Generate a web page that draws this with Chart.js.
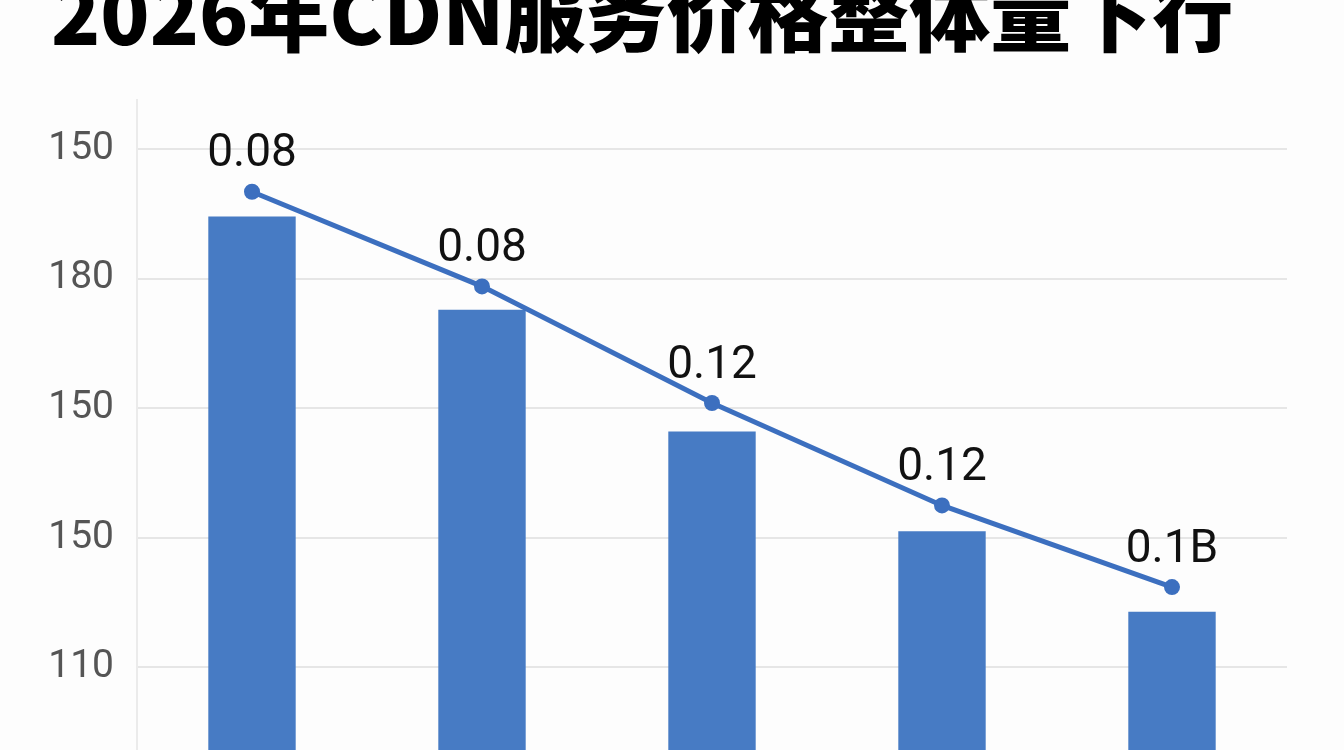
<!DOCTYPE html>
<html>
<head>
<meta charset="utf-8">
<script src="https://cdn.jsdelivr.net/npm/chart.js@4/dist/chart.umd.min.js"></script>
<style>
    html, body { margin: 0; padding: 0; background: #fdfdfd; overflow: hidden; }
    #wrap { position: relative; width: 1344px; height: 750px; }
    #title {
        position: absolute; left: 51px; top: -31px; margin: 0;
        font-family: "Noto Sans CJK SC", sans-serif; font-weight: 900;
        font-size: 81px; line-height: 1; color: #000; white-space: nowrap;
    }
</style>
</head>
<body>
<div id="wrap">
    <canvas id="myChart" width="1344" height="750"></canvas>
    <h1 id="title">2026年CDN服务价格整体量下行</h1>
</div>
<script>
// Data.
const categories = ['1', '2', '3', '4', '5'];
const barValues = [144.8, 137.6, 128.2, 120.5, 114.3];
const lineValues = [146.7, 139.4, 130.4, 122.5, 116.2];
const pointLabels = ['0.08', '0.08', '0.12', '0.12', '0.1B'];
const tickValues = [150, 140, 130, 120, 110];
const tickLabels = ['150', '180', '150', '150', '110'];

// Draws the text over each point of the line.
const pointLabelPlugin = {
    id: 'pointLabels',
    afterDatasetsDraw(chart) {
        const ctx = chart.ctx;
        const meta = chart.getDatasetMeta(1);
        ctx.save();
        ctx.font = '46px Roboto';
        ctx.fillStyle = '#111';
        ctx.textAlign = 'center';
        ctx.textBaseline = 'middle';
        meta.data.forEach((pt, i) => {
            ctx.fillText(pointLabels[i], pt.x, pt.y - 37);
        });
        ctx.restore();
    }
};

const ctx = document.getElementById('myChart').getContext('2d');
const chart = new Chart(ctx, {
    data: {
        labels: categories,
        datasets: [{
            type: 'bar',
            data: barValues,
            backgroundColor: '#477bc4',
            barPercentage: 0.38,
            categoryPercentage: 1,
            order: 1
        }, {
            type: 'line',
            data: lineValues,
            borderColor: '#3c6fbf',
            backgroundColor: '#3c6fbf',
            borderWidth: 5,
            pointRadius: 8,
            pointBorderWidth: 0,
            tension: 0,
            order: 0
        }]
    },
    options: {
        responsive: false,
        animation: false,
        layout: {
            autoPadding: false,
            padding: { top: 100, right: 57, bottom: 0, left: 0 }
        },
        plugins: {
            legend: { display: false },
            tooltip: { enabled: false }
        },
        scales: {
            x: { display: false, offset: true },
            y: {
                min: 103.63,
                max: 153.78,
                afterBuildTicks: (scale) => {
                    scale.ticks = tickValues.map(v => ({ value: v }));
                },
                afterFit: (scale) => {
                    scale.width = 137;
                    scale.paddingTop = 0;
                    scale.paddingBottom = 0;
                },
                grid: { color: '#e6e6e6', lineWidth: 2, drawTicks: false },
                border: { color: '#ebebeb', width: 2 },
                ticks: {
                    padding: 23,
                    color: '#555',
                    font: { family: 'Roboto', size: 39, weight: '400' },
                    callback: (value) => tickLabels[tickValues.indexOf(value)]
                }
            }
        }
    },
    plugins: [pointLabelPlugin]
});
</script>
</body>
</html>
